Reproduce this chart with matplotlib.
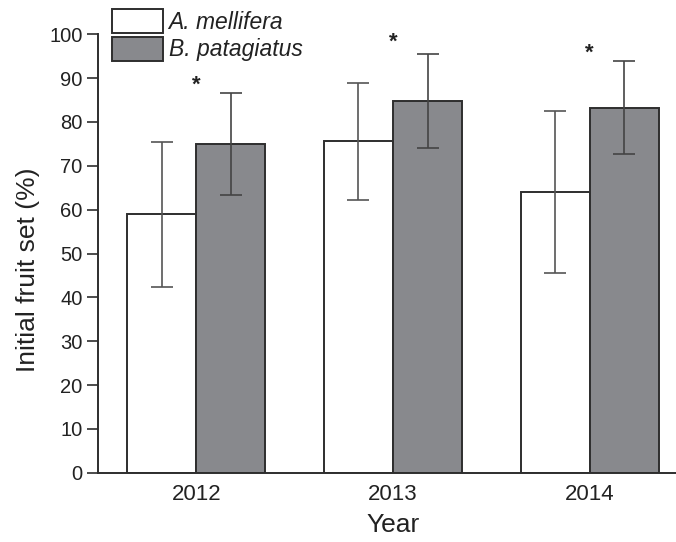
import matplotlib.pyplot as plt
import numpy as np

plt.rcParams['font.family'] = ['Liberation Sans', 'DejaVu Sans']

years = ['2012', '2013', '2014']
mellifera = [58.9, 75.6, 64.0]
mellifera_err = [16.6, 13.4, 18.5]
patagiatus = [75.0, 84.8, 83.3]
patagiatus_err = [11.6, 10.8, 10.5]
star_y = [88.4, 98.1, 95.7]

edge = '#2e2e2e'
x = np.arange(len(years))
w = 0.351

fig = plt.figure(figsize=(6.76, 5.42), dpi=100)
ax = fig.add_axes([98 / 676, 69.3 / 542, 590 / 676, 438.4 / 542])

b1 = ax.bar(x - w / 2, mellifera, w, color='white', edgecolor=edge, linewidth=1.4,
            label='A. mellifera', zorder=2)
b2 = ax.bar(x + w / 2, patagiatus, w, color='#88898d', edgecolor=edge, linewidth=1.4,
            label='B. patagiatus', zorder=2)
ax.errorbar(x - w / 2, mellifera, yerr=mellifera_err, fmt='none', ecolor='#555555',
            elinewidth=1.2, capsize=8, capthick=1.2, zorder=3)
ax.errorbar(x + w / 2, patagiatus, yerr=patagiatus_err, fmt='none', ecolor='#444444',
            elinewidth=1.2, capsize=8, capthick=1.2, zorder=3)

for xi, yi in zip(x, star_y):
    ax.text(xi, yi, '*', ha='center', va='center', fontsize=16, fontweight='bold',
            color='#222222')

ax.set_xlim(-0.5, 2.5)
ax.set_ylim(0, 100)
ax.set_yticks(range(0, 101, 10))
ax.set_xticks(x)
ax.set_xticklabels(years)
ax.tick_params(axis='y', length=8, width=1.2, color=edge, labelsize=14.5, pad=3,
               labelcolor='#222222')
ax.tick_params(axis='x', length=0, labelsize=16, pad=8, labelcolor='#222222')
for s in ['top', 'right']:
    ax.spines[s].set_visible(False)
for s in ['left', 'bottom']:
    ax.spines[s].set_color(edge)
    ax.spines[s].set_linewidth(1.4)

ax.set_ylabel('Initial fruit set (%)', fontsize=19, color='#222222')
ax.yaxis.set_label_coords(-0.098, 0.462)
ax.set_xlabel('Year', fontsize=19, color='#222222', labelpad=6)

leg = fig.legend(handles=[b1, b2], loc='upper left', bbox_to_anchor=(112 / 676, 1 - 9 / 542),
                 frameon=False, fontsize=16.5, handlelength=2.21, handleheight=1.25,
                 labelspacing=0.12, handletextpad=0.26, borderpad=0, borderaxespad=0)
for t in leg.get_texts():
    t.set_fontstyle('italic')
    t.set_color('#222222')

fig.savefig('out.png', dpi=100)
